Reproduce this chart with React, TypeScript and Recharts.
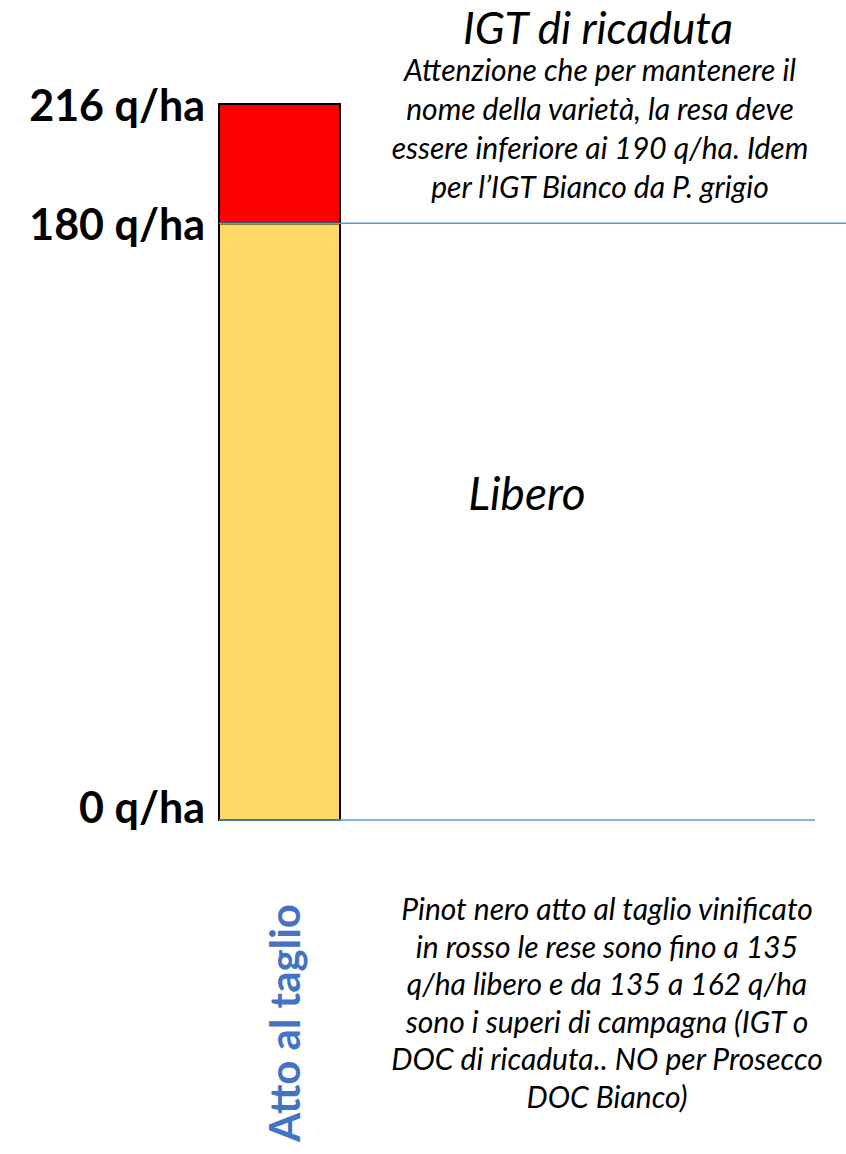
import React from 'react';
import { BarChart, Bar, XAxis, YAxis, ReferenceLine } from 'recharts';

// ---- data ----
const categories: string[] = ['Atto al taglio'];
const liberoValues: number[] = [180]; // 0 - 180 q/ha
const ricadutaValues: number[] = [36]; // 180 - 216 q/ha
const yTicks: number[] = [0, 180, 216];
const yTickLabels: string[] = ['0 q/ha', '180 q/ha', '216 q/ha'];
const limitLibero = 180;
const limitZero = 0;

const data = categories.map((c, i) => ({
  name: c,
  libero: liberoValues[i],
  ricaduta: ricadutaValues[i],
}));

const W = 846;
const H = 1154;
const LINE_BLUE = '#5B9BD5';
const TEXT_FONT = 'Lato, "Open Sans", sans-serif';

const YTick = (props: any) => {
  const { x, y, payload } = props;
  const idx = yTicks.indexOf(payload.value);
  return (
    <text
      x={x}
      y={y}
      dy={payload.value === 0 ? -14 : 0}
      textAnchor="end"
      dominantBaseline="central"
      fontFamily={TEXT_FONT}
      fontWeight={700}
      fontSize={43}
      fill="#000"
    >
      {idx >= 0 ? yTickLabels[idx] : payload.value}
    </text>
  );
};

const XTick = (props: any) => {
  const { x, y, payload } = props;
  const cy = y + 195;
  return (
    <text
      x={x + 4}
      y={cy}
      textAnchor="middle"
      dominantBaseline="central"
      transform={`rotate(-90, ${x + 4}, ${cy})`}
      fontFamily={TEXT_FONT}
      fontWeight={700}
      fontSize={42}
      fill="#4472C4"
    >
      {payload.value}
    </text>
  );
};

const ShortLine = (props: any) => {
  const { x1, y1, x2, y2 } = props;
  return <line x1={x1} y1={y1} x2={x2 - 31} y2={y2} stroke={LINE_BLUE} strokeWidth={1.5} />;
};

const italic: React.CSSProperties = {
  position: 'absolute',
  fontFamily: TEXT_FONT,
  fontStyle: 'italic',
  color: '#000',
  textAlign: 'center',
  whiteSpace: 'pre',
};

export default function App() {
  return (
    <div style={{ position: 'absolute', left: 0, top: 0, width: W, height: H, background: '#fff' }}>
      <BarChart
        width={W}
        height={H}
        data={data}
        margin={{ top: 104, right: 0, bottom: 0, left: 0 }}
        barCategoryGap={0}
      >
        <YAxis
          type="number"
          domain={[0, 216]}
          ticks={yTicks}
          width={219}
          axisLine={false}
          tickLine={false}
          tickSize={0}
          tickMargin={14}
          tick={<YTick />}
          interval={0}
        />
        <XAxis
          dataKey="name"
          height={334}
          padding={{ left: 0, right: 506 }}
          axisLine={false}
          tickLine={false}
          tick={<XTick />}
          interval={0}
        />
        <ReferenceLine y={limitLibero} stroke={LINE_BLUE} strokeWidth={1.5} ifOverflow="visible" />
        <ReferenceLine y={limitZero} stroke={LINE_BLUE} shape={<ShortLine />} ifOverflow="visible" />
        <Bar
          dataKey="libero"
          stackId="a"
          fill="#FFD966"
          stroke="#000"
          strokeWidth={2}
          isAnimationActive={false}
        />
        <Bar
          dataKey="ricaduta"
          stackId="a"
          fill="#FF0000"
          stroke="#000"
          strokeWidth={2}
          isAnimationActive={false}
        />
      </BarChart>

      <div style={{ ...italic, left: 398, width: 400, top: 1, fontSize: 44, lineHeight: 'normal' }}>
        IGT di ricaduta
      </div>
      <div style={{ ...italic, left: 350, width: 500, top: 50, fontSize: 30, lineHeight: '39px' }}>
        {'Attenzione che per mantenere il\nnome della varietà, la resa deve\nessere inferiore ai 190 q/ha. Idem\nper l\u2019IGT Bianco da P. grigio'}
      </div>
      <div style={{ ...italic, left: 427, width: 200, top: 467, fontSize: 46, lineHeight: '52px' }}>
        Libero
      </div>
      <div style={{ ...italic, left: 357, width: 500, top: 890, fontSize: 30, lineHeight: '37.5px' }}>
        {'Pinot nero atto al taglio vinificato\nin rosso le rese sono fino a 135\nq/ha libero e da 135 a 162 q/ha\nsono i superi di campagna (IGT o\nDOC di ricaduta.. NO per Prosecco\nDOC Bianco)'}
      </div>
    </div>
  );
}
